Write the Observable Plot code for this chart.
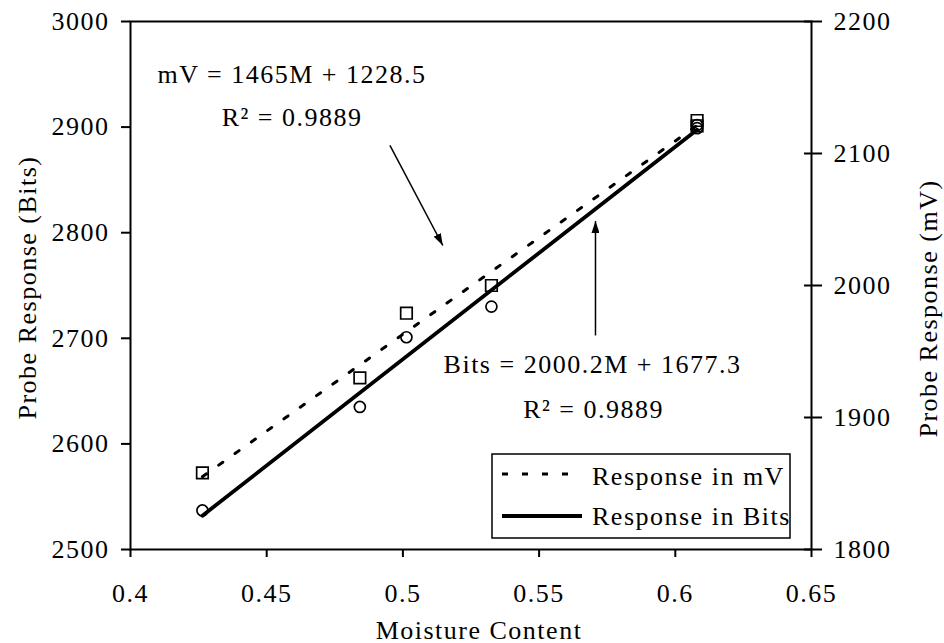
<!DOCTYPE html>
<html>
<head>
<meta charset="utf-8">
<script src="https://cdn.jsdelivr.net/npm/d3@7"></script>
<script src="https://cdn.jsdelivr.net/npm/@observablehq/plot@0.6"></script>
<style>
html, body { margin: 0; padding: 0; background: #fff; }
#chart { width: 944px; height: 643px; }
</style>
</head>
<body>
<div id="chart"></div>
<script>
// ---- data ----
const moisture   = [0.4264, 0.4842, 0.5013, 0.5325, 0.6080, 0.6080];
const bitsValues = [2537, 2635, 2701, 2730, 2899, 2902];
const mvValues   = [1858, 1930, 1979, 2000, 2121, 2125];

const xTicks    = [0.4, 0.45, 0.5, 0.55, 0.6, 0.65];
const bitsTicks = [2500, 2600, 2700, 2800, 2900, 3000];
const mvTicks   = [1800, 1900, 2000, 2100, 2200];

const xTitle      = "Moisture Content";
const leftTitle   = "Probe Response (Bits)";
const rightTitle  = "Probe Response (mV)";
const seriesNames = ["Response in mV", "Response in Bits"];

// annotation texts (positions in data space of the left axis)
const annoTexts = [
  {text: "mV = 1465M + 1228.5",     x: 0.4593, y: 2942.2},
  {text: "R\u00B2 = 0.9889",        x: 0.4593, y: 2900.6},
  {text: "Bits = 2000.2M + 1677.3", x: 0.5696, y: 2666.7},
  {text: "R\u00B2 = 0.9889",        x: 0.5700, y: 2625.0}
];
const annoArrows = [
  {x1: 0.49524, y1: 2882.6, x2: 0.51465, y2: 2787.9},
  {x1: 0.57070, y1: 2702.7, x2: 0.57070, y2: 2811.0}
];

// dual axis: mV (1800..2200) shares the frame with Bits (2500..3000)
const mvToBits = v => 2500 + (v - 1800) * 500 / 400;
const bitsToMv = b => Math.round(1800 + (b - 2500) * 400 / 500);

const bitsData = moisture.map((m, i) => ({m, v: bitsValues[i]}));
const mvData   = moisture.map((m, i) => ({m, v: mvToBits(mvValues[i])}));

const font = "'Liberation Serif', 'Times New Roman', serif";

const plot = Plot.plot({
  width: 944,
  height: 643,
  marginLeft: 130,
  marginRight: 133,
  marginTop: 21,
  marginBottom: 94,
  x: {domain: [0.4, 0.65]},
  y: {domain: [2500, 3000]},
  style: {fontFamily: font, fontSize: "26px", letterSpacing: "1.5px", color: "#000", background: "#fff", overflow: "visible"},
  marks: [
    Plot.linearRegressionY(mvData, {x: "m", y: "v", ci: 0, stroke: "#000", strokeWidth: 3, strokeDasharray: "5,15"}),
    Plot.linearRegressionY(bitsData, {x: "m", y: "v", ci: 0, stroke: "#000", strokeWidth: 3.8}),
    Plot.dot(mvData, {x: "m", y: "v", symbol: "square", r: 6.5, stroke: "#000", strokeWidth: 1.7, fill: "none"}),
    Plot.dot(bitsData, {x: "m", y: "v", symbol: "circle", r: 5.5, stroke: "#000", strokeWidth: 1.7, fill: "none"}),
    Plot.frame({stroke: "#000", strokeWidth: 2}),
    Plot.axisX({ticks: xTicks, tickFormat: d => String(d), tickSize: 8, tickPadding: 26, strokeWidth: 2, label: null}),
    Plot.axisY({anchor: "left", ticks: bitsTicks, tickFormat: d => String(d), tickSize: 9, tickPadding: 12, strokeWidth: 2, label: null}),
    Plot.axisY({anchor: "right", ticks: mvTicks.map(mvToBits), tickFormat: () => "", tickSize: 18, dx: -8, strokeWidth: 2, label: null}),
    Plot.axisY({anchor: "right", ticks: mvTicks.map(mvToBits), tickFormat: d => String(bitsToMv(d)), tickSize: 0, tickPadding: 22, label: null}),
    Plot.text([xTitle], {text: d => d, frameAnchor: "bottom", dx: 8, dy: 89, lineAnchor: "bottom"}),
    Plot.text([leftTitle], {text: d => d, frameAnchor: "left", rotate: -90, lineAnchor: "bottom", textAnchor: "middle", dx: -95, dy: 2}),
    Plot.text([rightTitle], {text: d => d, frameAnchor: "right", rotate: -90, lineAnchor: "bottom", textAnchor: "middle", dx: 125, dy: 23}),
    Plot.text(annoTexts, {x: "x", y: "y", text: "text", textAnchor: "middle", lineAnchor: "bottom"}),
    Plot.link(annoArrows, {x1: "x1", y1: "y1", x2: "x2", y2: "y2", stroke: "#000", strokeWidth: 1.5})
  ]
});

document.getElementById("chart").appendChild(plot);

// filled arrowheads on the annotation links
const svg = d3.select(plot);
const defs = svg.insert("defs", ":first-child");
defs.append("marker")
  .attr("id", "annoHead")
  .attr("viewBox", "0 0 12 8")
  .attr("refX", 12).attr("refY", 4)
  .attr("markerWidth", 12).attr("markerHeight", 8)
  .attr("markerUnits", "userSpaceOnUse")
  .attr("orient", "auto")
  .append("path").attr("d", "M0,0L12,4L0,8Z").attr("fill", "#000");
svg.selectAll('g[aria-label="link"] path').attr("marker-end", "url(#annoHead)");

// legend box inside the frame
const legendBox = {x: 492, y: 454, w: 298, h: 84};
const legendItems = [
  {label: seriesNames[0], dash: "6,14", width: 3, lineY: 20, lineLen: 70, textY: 31},
  {label: seriesNames[1], dash: null,   width: 3.8, lineY: 62, lineLen: 80, textY: 71}
];
const lg = svg.append("g").attr("transform", `translate(${legendBox.x},${legendBox.y})`);
lg.append("rect").attr("width", legendBox.w).attr("height", legendBox.h)
  .attr("fill", "#fff").attr("stroke", "#000").attr("stroke-width", 1.5);
legendItems.forEach(it => {
  lg.append("line").attr("x1", 10).attr("x2", 10 + it.lineLen)
    .attr("y1", it.lineY).attr("y2", it.lineY)
    .attr("stroke", "#000").attr("stroke-width", it.width)
    .attr("stroke-dasharray", it.dash);
  lg.append("text").attr("x", 100).attr("y", it.textY)
    .attr("text-anchor", "start").attr("fill", "#000").text(it.label);
});
</script>
</body>
</html>
